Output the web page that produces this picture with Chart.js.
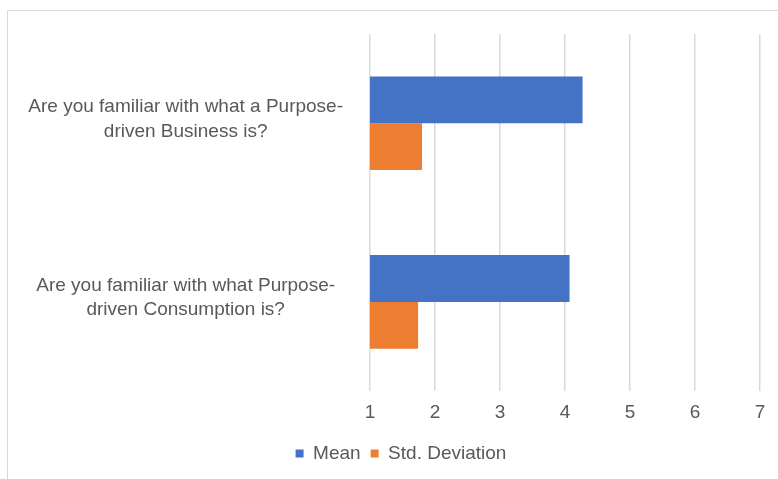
<!DOCTYPE html>
<html>
<head>
<meta charset="utf-8">
<script src="https://cdn.jsdelivr.net/npm/chart.js@4"></script>
<style>
  html, body { margin: 0; padding: 0; background: #fff; }
  #wrap { position: relative; width: 778px; height: 479px; overflow: hidden; }
  #frame { position: absolute; left: 7px; top: 10px; width: 800px; height: 500px; border: 1px solid #d9d9d9; }
  #holder { position: absolute; left: 0; top: 0; width: 778px; height: 479px; }
</style>
</head>
<body>
<div id="wrap">
  <div id="frame"></div>
  <div id="holder"><canvas id="chart"></canvas></div>
</div>
<script>
const questions = [
  ["Are you familiar with what a Purpose-", "driven Business is?"],
  ["Are you familiar with what Purpose-", "driven Consumption is?"]
];
const meanValues = [4.27, 4.07];
const stdValues = [1.80, 1.74];
const xTicks = [1, 2, 3, 4, 5, 6, 7];

const textColor = "#595959";
const fontFamily = "'Liberation Sans', Arial, sans-serif";

// nudge the legend a bit to the right, like the original
const legendShift = {
  id: "legendShift",
  afterLayout(chart) {
    chart.legend.left += 16;
    chart.legend.right += 16;
  }
};

const ctx = document.getElementById("chart").getContext("2d");
new Chart(ctx, {
  type: "bar",
  data: {
    labels: questions,
    datasets: [
      { label: "Mean", data: meanValues, backgroundColor: "#4472C4" },
      { label: "Std. Deviation", data: stdValues, backgroundColor: "#ED7D31" }
    ]
  },
  options: {
    indexAxis: "y",
    responsive: true,
    maintainAspectRatio: false,
    animation: false,
    categoryPercentage: 0.524,
    barPercentage: 1.0,
    layout: { padding: { left: 10, right: 18, top: 34, bottom: 6 } },
    plugins: {
      tooltip: { enabled: false },
      legend: {
        position: "bottom",
        labels: {
          color: textColor,
          font: { family: fontFamily, size: 19 },
          boxWidth: 8,
          boxHeight: 8,
          padding: 10
        }
      }
    },
    scales: {
      x: {
        min: xTicks[0],
        max: xTicks[xTicks.length - 1],
        afterBuildTicks: (scale) => { scale.ticks = xTicks.map(v => ({ value: v })); },
        afterFit: (scale) => { scale.paddingLeft = 0; scale.paddingRight = 0; },
        grid: { color: "#d9d9d9", lineWidth: 1.5, drawTicks: false },
        border: { display: false },
        ticks: { color: textColor, font: { family: fontFamily, size: 19 }, padding: 10 }
      },
      y: {
        grid: { display: false },
        border: { display: false },
        afterFit: (scale) => { scale.width = 360; scale.paddingTop = 0; scale.paddingBottom = 0; },
        ticks: {
          color: textColor,
          font: { family: fontFamily, size: 19, lineHeight: 1.3 },
          crossAlign: "center",
          padding: 19,
          labelOffset: -4
        }
      }
    }
  },
  plugins: [legendShift]
});
</script>
</body>
</html>
